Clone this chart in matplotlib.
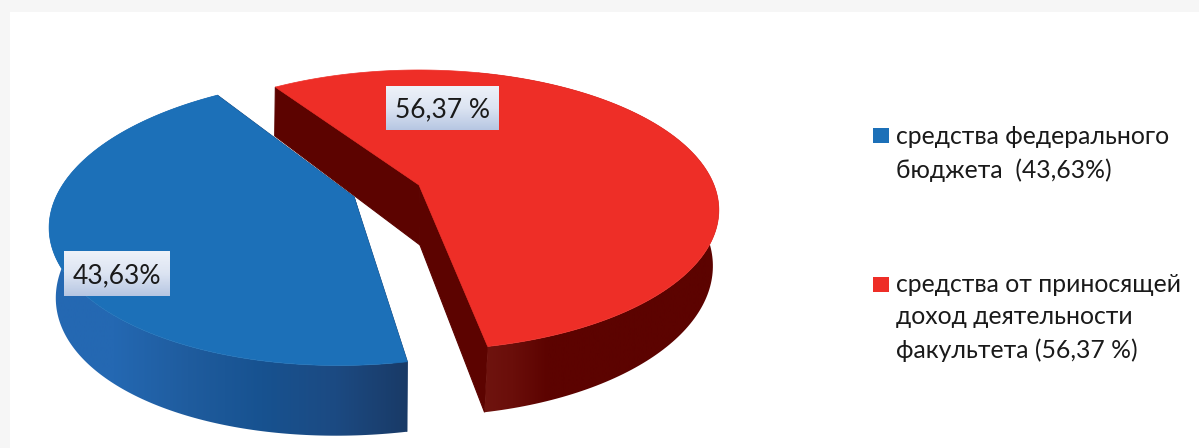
import numpy as np
import matplotlib
matplotlib.use('Agg')
import matplotlib.pyplot as plt
from matplotlib.colors import LinearSegmentedColormap
from matplotlib.patches import Polygon, Rectangle

plt.rcParams['font.family'] = ['Lato', 'Open Sans', 'DejaVu Sans']

# данные
shares = [56.37, 43.63]
slice_labels = ['56,37 %', '43,63%']
legend_blue = ['средства федерального', 'бюджета  (43,63%)']
legend_red = ['средства от приносящей', 'доход деятельности', 'факультета (56,37 %)']

RED = '#ee2e27'
RED_WALL = '#5c0300'
BLUE = '#1c70b8'
START_ANGLE = 124.0


def project(t, apex, a, b, shear, k):
    # точка окружности -> экран, перспектива через w
    u, v = np.cos(t), np.sin(t)
    w = 1 + k * v
    return apex[0] + (a * u + shear * v) / w, apex[1] - b * v / w


def sector(a0, a1, apex, a, b, shear, k, n=200):
    t = np.radians(np.linspace(a0, a1, n))
    x, y = project(t, apex, a, b, shear, k)
    return np.column_stack([x, y])


def gradient_fill(ax, poly, colors, extent, vertical=False, zorder=2):
    cmap = LinearSegmentedColormap.from_list('g', colors)
    g = np.linspace(0, 1, 256)
    g = g.reshape(-1, 1) if vertical else g.reshape(1, -1)
    im = ax.imshow(g, cmap=cmap, extent=extent, aspect='auto', zorder=zorder)
    if poly is not None:
        patch = Polygon(poly, closed=True, transform=ax.transData)
        im.set_clip_path(patch)
    return im


def draw_slice(ax, a0, a1, top, bottom, top_color, inner_color, wall_colors, wall_x, z):
    top_arc = sector(a0, a1, *top)
    bot_arc = sector(a0, a1, *bottom)
    # внутренние стенки
    for i in (0, -1):
        quad = [top[0], top_arc[i], bot_arc[i], bottom[0]]
        ax.add_patch(Polygon(quad, facecolor=inner_color, edgecolor=inner_color, lw=0.8, zorder=z))
    # внешняя стенка
    wall = np.vstack([top_arc, bot_arc[::-1]])
    gradient_fill(ax, wall, wall_colors, (wall_x[0], wall_x[1], 448, 0), zorder=z + 0.1)
    ax.add_patch(Polygon(np.vstack([[top[0]], top_arc]), color=top_color, lw=0.5, zorder=z + 0.2))


def label_box(ax, x0, x1, y0, y1, text):
    gradient_fill(ax, None, ['#eef2f9', '#dce4f2', '#b6c6e2'], (x0, x1, y1, y0), vertical=True, zorder=6)
    ax.text((x0 + x1) / 2, (y0 + y1) / 2 + 2, text, fontsize=19, color='#1a1a1a',
            ha='center', va='center', zorder=7)


def main():
    fig = plt.figure(figsize=(11.99, 4.48), dpi=100, facecolor='#f6f6f6')
    ax = fig.add_axes([0, 0, 1, 1])
    ax.add_patch(Rectangle((10, 12), 1189, 436, color='white', lw=0, zorder=0))

    sweep_red = shares[0] / sum(shares) * 360
    sweep_blue = shares[1] / sum(shares) * 360

    # красный сектор
    red_top = ((419, 185), 295, 135.6, 0, 0.179)
    red_bot = ((420, 245), 290, 147, 0, 0.14)
    draw_slice(ax, START_ANGLE - sweep_red, START_ANGLE, red_top, red_bot, RED, RED_WALL,
               ['#701510', '#6a0e0a', '#5c0300', '#5c0300', '#5c0300', '#5c0300', '#5c0300', RED_WALL], (478, 720), 2)

    # синий сектор
    blue_top = ((354, 197), 298, 140, 13, 0.169)
    blue_bot = ((372, 257), 305, 148.5, 30, 0.169)
    draw_slice(ax, START_ANGLE, START_ANGLE + sweep_blue, blue_top, blue_bot, BLUE, '#193a66',
               ['#2468b2', '#2468b2', '#1f5c9e', '#175290', '#1c4a82', '#193a66'], (40, 410), 3)

    label_box(ax, 386, 499, 86, 130, slice_labels[0])
    label_box(ax, 64, 170, 251, 296, slice_labels[1])

    # легенда
    ax.add_patch(Rectangle((873, 128), 16, 15, color=BLUE, lw=0, zorder=5))
    ax.add_patch(Rectangle((873, 277), 16, 15, color=RED, lw=0, zorder=5))
    for text, y in zip(legend_blue, [136, 170]):
        ax.text(896, y, text, fontsize=17.8, color='#1a1a1a', ha='left', va='center', zorder=5)
    for text, y in zip(legend_red, [285, 317, 350]):
        ax.text(896, y, text, fontsize=17.8, color='#1a1a1a', ha='left', va='center', zorder=5)

    ax.set_xlim(0, 1199)
    ax.set_ylim(448, 0)
    ax.axis('off')
    fig.savefig('out.png', dpi=100, facecolor=fig.get_facecolor())


if __name__ == '__main__':
    main()
